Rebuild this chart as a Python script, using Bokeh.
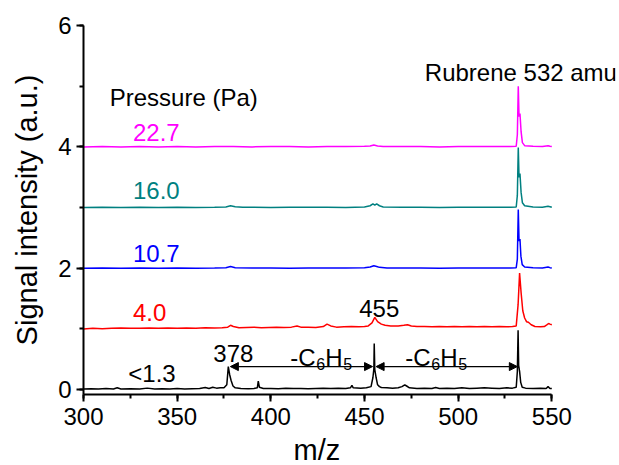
from bokeh.plotting import figure
from bokeh.models import Label, Arrow, NormalHead, Range1d, SingleIntervalTicker, Title
from bokeh.embed import file_html
from bokeh.resources import INLINE

# ---------------- data ----------------
pressures = ["<1.3", "4.0", "10.7", "16.0", "22.7"]
offsets = [0, 1, 2, 3, 4]
colors = ["black", "#FF0000", "#0000FF", "#008080", "#FF00FF"]

mz_black = [300, 304, 308, 312, 316, 318, 320, 325, 330, 334, 338, 342, 346, 350, 354, 358, 362, 365, 367, 369,
            371, 373, 375, 376.5, 377.3, 378, 378.8, 379.8, 381, 384, 388, 391, 392.8, 393.3, 393.9, 396, 400,
            404, 408, 412, 416, 420, 424, 428, 432, 436, 440, 442.5, 443.3, 444, 448, 451, 453.5, 454.5, 455.0,
            455.2, 455.5, 456.2, 457, 458, 459, 462, 465, 468, 470, 471.5, 472.5, 474, 478, 482, 486, 488, 490,
            494, 498, 502, 506, 510, 514, 518, 522, 526, 529, 531, 531.6, 532.0, 532.3, 532.8, 533.4, 534.2,
            536, 540, 544, 547, 548, 549, 550]
int_black = [0.01, 0.015, 0.01, 0.02, 0.01, 0.03, 0.01, 0.015, 0.01, 0.025, 0.01, 0.015, 0.01, 0.02, 0.01, 0.015,
             0.02, 0.035, 0.02, 0.04, 0.025, 0.03, 0.03, 0.08, 0.38, 0.25, 0.15, 0.06, 0.03, 0.02, 0.015, 0.02,
             0.03, 0.14, 0.04, 0.02, 0.02, 0.015, 0.025, 0.02, 0.02, 0.015, 0.02, 0.025, 0.02, 0.025, 0.02, 0.03,
             0.07, 0.03, 0.025, 0.03, 0.05, 0.2, 0.34, 0.76, 0.33, 0.2, 0.08, 0.05, 0.035, 0.03, 0.025, 0.03,
             0.05, 0.08, 0.06, 0.03, 0.02, 0.025, 0.02, 0.035, 0.02, 0.025, 0.02, 0.03, 0.02, 0.025, 0.03, 0.025,
             0.02, 0.03, 0.025, 0.04, 0.3, 0.98, 0.4, 0.3, 0.12, 0.04, 0.025, 0.02, 0.025, 0.02, 0.05, 0.02, 0.02]

mz_red = [300, 305, 310, 315, 320, 325, 330, 335, 340, 345, 350, 355, 360, 365, 370, 374, 377, 378.5, 380, 383,
          387, 391, 395, 399, 403, 407, 411, 414, 416, 420, 424, 428, 430, 432, 435, 439, 443, 447, 450, 452,
          454, 455.5, 457, 459, 461, 464, 468, 471, 473, 475, 478, 482, 486, 490, 494, 498, 502, 506, 510, 514,
          518, 522, 526, 529, 531, 532, 532.8, 533.6, 534.5, 535.5, 536.5, 537.5, 539, 541, 544, 546, 547.5,
          548.3, 549, 550]
int_red = [0.0, 0.01, 0.005, 0.01, 0.015, 0.01, 0.01, 0.015, 0.01, 0.015, 0.01, 0.015, 0.01, 0.02, 0.015, 0.02,
           0.03, 0.06, 0.04, 0.02, 0.025, 0.03, 0.02, 0.025, 0.03, 0.025, 0.03, 0.05, 0.03, 0.03, 0.025, 0.04,
           0.08, 0.05, 0.03, 0.035, 0.04, 0.035, 0.04, 0.05, 0.1, 0.19, 0.12, 0.08, 0.06, 0.05, 0.05, 0.06, 0.07,
           0.05, 0.04, 0.04, 0.035, 0.04, 0.035, 0.04, 0.035, 0.04, 0.035, 0.04, 0.035, 0.04, 0.035, 0.04, 0.05,
           0.4, 0.92, 0.6, 0.3, 0.18, 0.12, 0.11, 0.07, 0.04, 0.035, 0.04, 0.07, 0.09, 0.08, 0.07]

mz_blue = [300, 310, 320, 330, 340, 350, 360, 370, 376, 378.5, 381, 390, 400, 410, 420, 430, 440, 450, 453, 455,
           456.5, 458, 462, 470, 480, 490, 500, 510, 520, 528, 531, 531.6, 532.1, 532.5, 533, 533.5, 534.2,
           535.5, 540, 545, 548, 549, 550]
int_blue = [0.0, 0.005, 0.0, 0.005, 0.0, 0.005, 0.0, 0.005, 0.01, 0.03, 0.01, 0.005, 0.005, 0.0, 0.005, 0.005,
            0.005, 0.01, 0.02, 0.04, 0.03, 0.015, 0.005, 0.005, 0.005, 0.0, 0.005, 0.005, 0.005, 0.005, 0.01,
            0.15, 0.97, 0.45, 0.48, 0.2, 0.06, 0.02, 0.01, 0.005, 0.02, 0.01, 0.005]

mz_teal = [300, 310, 320, 330, 340, 350, 360, 370, 376, 378.5, 381, 385, 390, 400, 410, 420, 430, 440, 450, 453,
           454.5, 455.5, 456.5, 458, 460, 470, 480, 490, 500, 510, 520, 528, 531, 531.6, 532.1, 532.5, 533,
           533.6, 534.3, 535.5, 540, 545, 548, 549, 550]
int_teal = [0.0, 0.005, 0.0, 0.005, 0.0, 0.005, 0.0, 0.005, 0.01, 0.03, 0.015, 0.005, 0.005, 0.0, 0.005, 0.005,
            0.005, 0.0, 0.01, 0.03, 0.06, 0.04, 0.06, 0.03, 0.01, 0.005, 0.005, 0.0, 0.005, 0.005, 0.005, 0.005,
            0.01, 0.2, 0.99, 0.5, 0.56, 0.25, 0.08, 0.03, 0.01, 0.005, 0.02, 0.015, 0.005]

mz_mag = [300, 310, 320, 330, 340, 350, 360, 370, 380, 390, 400, 410, 420, 430, 440, 450, 453, 455, 457, 460,
          470, 480, 490, 500, 510, 520, 528, 531, 531.6, 532.1, 532.5, 533, 533.6, 534.3, 535.5, 540, 545, 548,
          549, 550]
int_mag = [0.0, 0.005, 0.0, 0.005, 0.0, 0.005, 0.0, 0.005, 0.005, 0.0, 0.005, 0.005, 0.0, 0.005, 0.005, 0.01,
           0.015, 0.03, 0.015, 0.005, 0.005, 0.005, 0.0, 0.005, 0.005, 0.005, 0.005, 0.01, 0.2, 1.0, 0.5, 0.55,
           0.25, 0.07, 0.02, 0.01, 0.005, 0.02, 0.01, 0.005]

spectra_mz = [mz_black, mz_red, mz_blue, mz_teal, mz_mag]
spectra_int = [int_black, int_red, int_blue, int_teal, int_mag]

# peak annotations
peak_labels = ["378", "455"]
peak_label_x = [369.3, 447.2]
peak_label_y = [0.59, 1.33]
arrow_x_start = [378.4, 456.2]
arrow_x_end = [454.3, 531.6]
arrow_y = 0.38
loss_label_x = [410.4, 471.8]
loss_label_y = 0.53

x_axis_bounds = (300, 550)
x_ticks_interval = 50
y_ticks_interval = 2

FONT = "Liberation Sans"

# ---------------- figure ----------------
p = figure(frame_width=532, frame_height=369,
           x_range=Range1d(300, 584), y_range=Range1d(-0.08, 6),
           output_backend="svg", toolbar_location=None,
           min_border_left=83, min_border_right=2, min_border_top=25, min_border_bottom=30)
p.outline_line_color = None
p.grid.grid_line_color = None
p.background_fill_color = "white"
p.border_fill_color = "white"

for mz, inten, off, col in zip(spectra_mz, spectra_int, offsets, colors):
    p.line(mz, [v + off for v in inten], line_color=col, line_width=1.5)

p.xaxis.bounds = x_axis_bounds
p.xaxis.ticker = SingleIntervalTicker(interval=x_ticks_interval, num_minor_ticks=2)
p.yaxis.ticker = SingleIntervalTicker(interval=y_ticks_interval, num_minor_ticks=2)
p.yaxis.axis_label = "Signal intensity (a.u.)"
for ax in (p.xaxis, p.yaxis):
    ax.axis_line_width = 2
    ax.axis_line_color = "black"
    ax.major_tick_line_width = 2
    ax.minor_tick_line_width = 2
    ax.major_tick_in = 0
    ax.minor_tick_in = 0
    ax.major_tick_out = 7
    ax.minor_tick_out = 4
    ax.major_label_text_font = FONT
    ax.major_label_text_font_size = "24px"
    ax.major_label_text_color = "black"
    ax.axis_label_text_font = FONT
    ax.axis_label_text_font_size = "29px"
    ax.axis_label_text_font_style = "normal"
    ax.axis_label_text_color = "black"
p.xaxis.major_label_standoff = 6
p.yaxis.major_label_standoff = 5
p.yaxis.axis_label_standoff = 12

# x axis title, centred under the bounded axis (300-550)
p.add_layout(Title(text="m/z", align="left", offset=210, standoff=9, text_font=FONT,
                   text_font_size="29px", text_font_style="normal", text_color="black"), "below")

# pressure labels
pressure_label_x = 326.4
pressure_label_y = [0.27, 1.27, 2.24, 3.28, 4.23]
for txt, yy, col in zip(pressures, pressure_label_y, colors):
    xx = pressure_label_x - 2.5 if txt.startswith("<") else pressure_label_x
    p.add_layout(Label(x=xx, y=yy, text=txt, text_color=col, text_font=FONT,
                       text_font_size="24px", text_baseline="alphabetic"))

p.add_layout(Label(x=314, y=4.81, text="Pressure (Pa)", text_font=FONT, text_font_size="24px",
                   text_baseline="alphabetic", text_color="black"))
p.add_layout(Label(x=482.2, y=5.22, text="Rubrene 532 amu", text_font=FONT, text_font_size="24px",
                   text_baseline="alphabetic", text_color="black"))

for txt, xx, yy in zip(peak_labels, peak_label_x, peak_label_y):
    p.add_layout(Label(x=xx, y=yy, text=txt, text_font=FONT, text_font_size="24px",
                       text_baseline="alphabetic", text_color="black"))

for xs, xe in zip(arrow_x_start, arrow_x_end):
    p.add_layout(Arrow(x_start=xs, y_start=arrow_y, x_end=xe, y_end=arrow_y,
                       line_width=1.3, line_color="black",
                       start=NormalHead(size=8, fill_color="black", line_color="black", line_width=1),
                       end=NormalHead(size=8, fill_color="black", line_color="black", line_width=1)))

for xx in loss_label_x:
    parts = [("-C", 0, 0, "24px"), ("6", 26, -7, "16px"), ("H", 35, 0, "24px"), ("5", 53, -7, "16px")]
    for txt, dx, dy, fs in parts:
        p.add_layout(Label(x=xx, y=loss_label_y, x_offset=dx, y_offset=dy, text=txt, text_font=FONT,
                           text_font_size=fs, text_baseline="alphabetic", text_color="black"))

open("out.html", "w").write(file_html(p, INLINE))
